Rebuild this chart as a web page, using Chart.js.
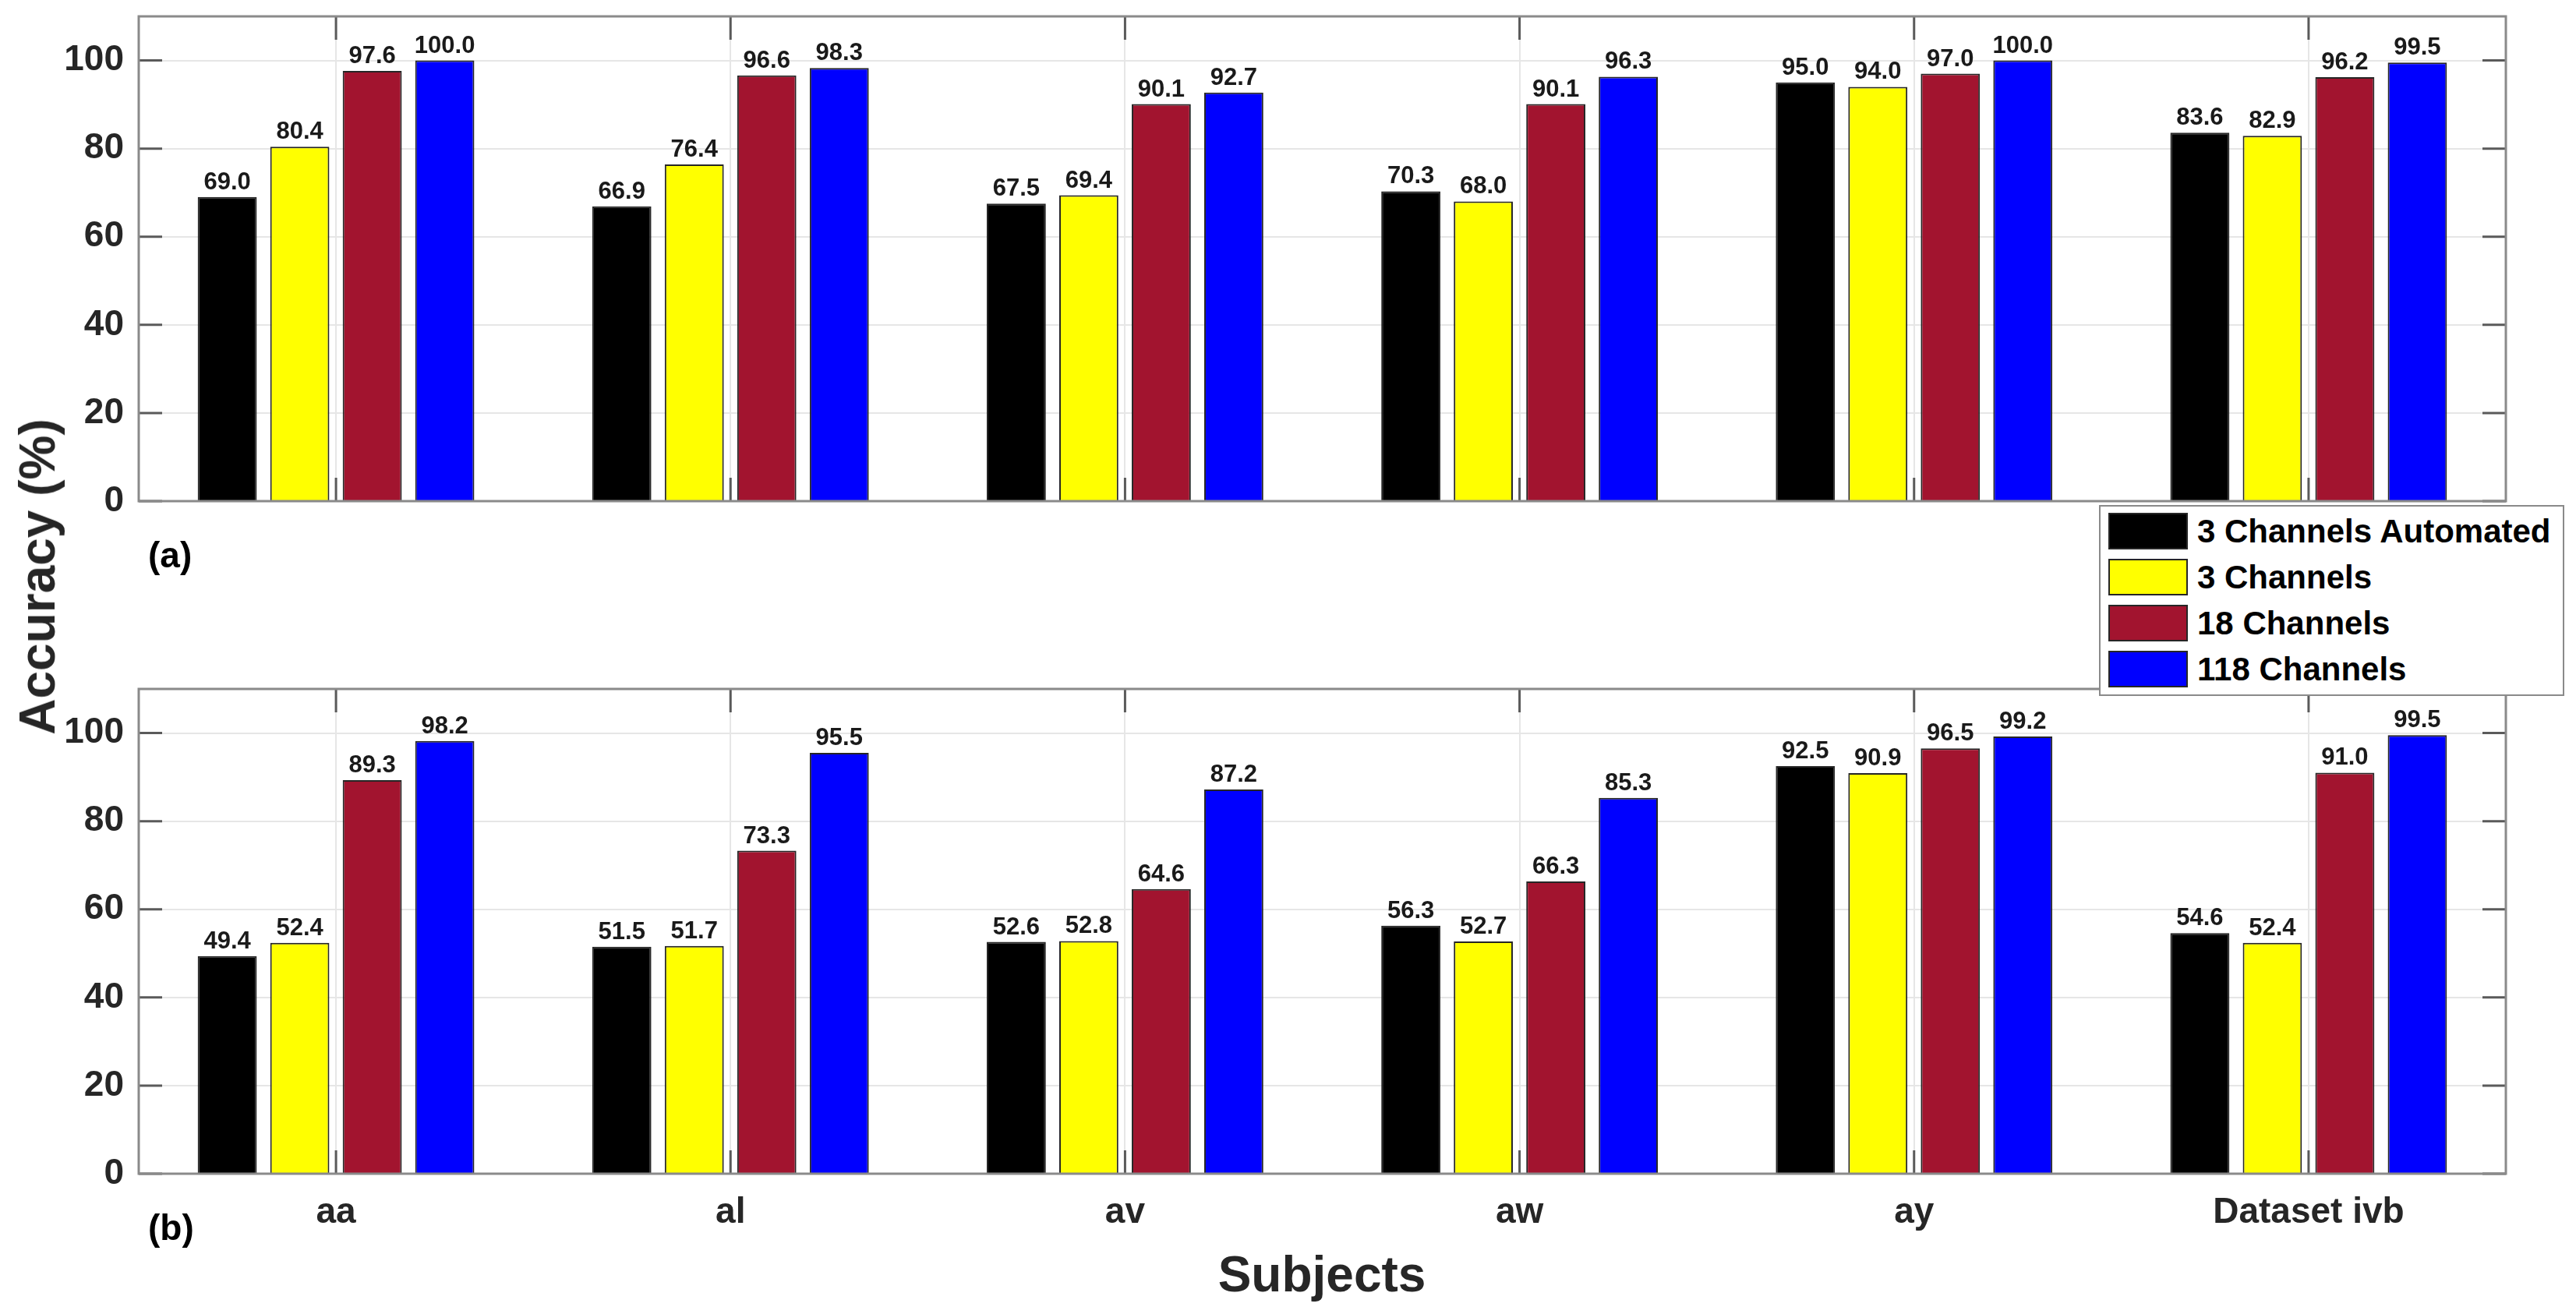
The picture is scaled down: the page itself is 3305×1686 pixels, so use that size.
<!DOCTYPE html>
<html>
<head>
<meta charset="utf-8">
<script src="https://cdn.jsdelivr.net/npm/chart.js@4.4.1/dist/chart.umd.min.js"></script>
<style>
  body { margin: 0; width: 3305px; height: 1686px; background: #fff; overflow: hidden; position: relative;
         font-family: "Liberation Sans", Arial, sans-serif; }
  canvas { position: absolute; left: 0; }
  #chartA { top: 0; }
  #chartB { top: 840px; }
  .txt { position: absolute; font-weight: bold; color: #262626; white-space: nowrap; }
  #ylab { left: 48px; top: 740px; font-size: 64px; transform: translate(-50%, -50%) rotate(-90deg); }
  #xlab { left: 1696px; top: 1635px; font-size: 64px; transform: translate(-50%, -50%); }
  #tagA { left: 190px; top: 712px; font-size: 46px; color: #000; transform: translateY(-50%); }
  #tagB { left: 190px; top: 1575px; font-size: 46px; color: #000; transform: translateY(-50%); }
  #legend { position: absolute; left: 2693px; top: 648px; width: 593px; height: 241px; background: #fff;
            border: 2px solid #8a8a8a; box-sizing: content-box; }
  .item { position: absolute; left: 10px; height: 47px; display: flex; align-items: center; }
  .sw { width: 98px; height: 43px; border: 2px solid #262626; margin-right: 12px; }
  .lt { font-size: 42px; font-weight: bold; color: #000; }
</style>
</head>
<body>
<canvas id="chartA" width="3305" height="700"></canvas>
<canvas id="chartB" width="3305" height="846"></canvas>
<div class="txt" id="ylab">Accuracy (%)</div>
<div class="txt" id="xlab">Subjects</div>
<div class="txt" id="tagA">(a)</div>
<div class="txt" id="tagB">(b)</div>
<div id="legend"></div>
<script>
// categories and series
const subjects = ["aa", "al", "av", "aw", "ay", "Dataset ivb"];
const seriesNames = ["3 Channels Automated", "3 Channels", "18 Channels", "118 Channels"];
const seriesColors = ["#000000", "#ffff00", "#a2142f", "#0000ff"];
const yTicks = [0, 20, 40, 60, 80, 100];

// panel (a)
const autoA = [69.0, 66.9, 67.5, 70.3, 95.0, 83.6];
const threeA = [80.4, 76.4, 69.4, 68.0, 94.0, 82.9];
const eighteenA = [97.6, 96.6, 90.1, 90.1, 97.0, 96.2];
const fullA = [100.0, 98.3, 92.7, 96.3, 100.0, 99.5];

// panel (b)
const autoB = [49.4, 51.5, 52.6, 56.3, 92.5, 54.6];
const threeB = [52.4, 51.7, 52.8, 52.7, 90.9, 52.4];
const eighteenB = [89.3, 73.3, 64.6, 66.3, 96.5, 91.0];
const fullB = [98.2, 95.5, 87.2, 85.3, 99.2, 99.5];

const FONT = '"Liberation Sans", Arial, sans-serif';

// box + inner ticks like matlab
const framePlugin = {
  id: "frame",
  afterDatasetsDraw(chart) {
    const { ctx, chartArea: a, scales } = chart;
    ctx.save();
    ctx.strokeStyle = "#5a5a5a";
    ctx.lineWidth = 3;
    ctx.beginPath();
    yTicks.forEach((v) => {
      const y = scales.y.getPixelForValue(v);
      ctx.moveTo(a.left, y); ctx.lineTo(a.left + 30, y);
      ctx.moveTo(a.right, y); ctx.lineTo(a.right - 30, y);
    });
    subjects.forEach((s, i) => {
      const x = scales.x.getPixelForValue(i);
      ctx.moveTo(x, a.top); ctx.lineTo(x, a.top + 30);
      ctx.moveTo(x, a.bottom); ctx.lineTo(x, a.bottom - 30);
    });
    ctx.stroke();
    ctx.strokeStyle = "#8a8a8a";
    ctx.strokeRect(a.left, a.top, a.right - a.left, a.bottom - a.top);
    ctx.restore();
  },
};

// value labels on top of bars
const valuePlugin = {
  id: "values",
  afterDatasetsDraw(chart) {
    const ctx = chart.ctx;
    ctx.save();
    ctx.font = "bold 31px " + FONT;
    ctx.fillStyle = "#1a1a1a";
    ctx.textAlign = "center";
    ctx.textBaseline = "alphabetic";
    chart.data.datasets.forEach((ds, i) => {
      chart.getDatasetMeta(i).data.forEach((bar, j) => {
        ctx.fillText(ds.data[j].toFixed(1), bar.x, bar.y - 10);
      });
    });
    ctx.restore();
  },
};

function makeChart(id, series, showLabels, padding) {
  return new Chart(document.getElementById(id), {
    type: "bar",
    data: {
      labels: subjects,
      datasets: series.map((vals, i) => ({
        label: seriesNames[i],
        data: vals,
        backgroundColor: seriesColors[i],
        borderColor: "#262626",
        borderWidth: 2,
        categoryPercentage: 0.735,
        barPercentage: 0.815,
      })),
    },
    options: {
      responsive: false,
      devicePixelRatio: 1,
      animation: false,
      layout: { padding: padding },
      plugins: { legend: { display: false }, tooltip: { enabled: false } },
      scales: {
        x: {
          offset: true,
          grid: { offset: false, color: "#e6e6e6", lineWidth: 2, drawTicks: false },
          border: { display: false },
          ticks: {
            display: showLabels,
            padding: 23,
            color: "#262626",
            font: { family: FONT, size: 46, weight: "bold" },
          },
          afterFit(scale) {
            scale.height = showLabels ? 100 : 0;
            scale.paddingLeft = 0;
            scale.paddingRight = 0;
          },
        },
        y: {
          min: 0,
          max: 110,
          grid: { color: "#e6e6e6", lineWidth: 2, drawTicks: false },
          border: { display: false },
          afterBuildTicks(scale) {
            scale.ticks = yTicks.map((v) => ({ value: v }));
          },
          ticks: {
            padding: 19,
            color: "#262626",
            font: { family: FONT, size: 46, weight: "bold" },
          },
          afterFit(scale) {
            scale.width = 178;
            scale.paddingTop = 0;
            scale.paddingBottom = 0;
          },
        },
      },
    },
    plugins: [framePlugin, valuePlugin],
  });
}

makeChart("chartA", [autoA, threeA, eighteenA, fullA], false,
  { top: 21, right: 90, bottom: 57, left: 0 });
makeChart("chartB", [autoB, threeB, eighteenB, fullB], true,
  { top: 44, right: 90, bottom: 80, left: 0 });

// legend built from the series
const legend = document.getElementById("legend");
seriesNames.forEach((name, i) => {
  const row = document.createElement("div");
  row.className = "item";
  row.style.top = 8 + i * 59 + "px";
  row.innerHTML = '<div class="sw" style="background:' + seriesColors[i] + '"></div><span class="lt">' + name + "</span>";
  legend.appendChild(row);
});
</script>
</body>
</html>
